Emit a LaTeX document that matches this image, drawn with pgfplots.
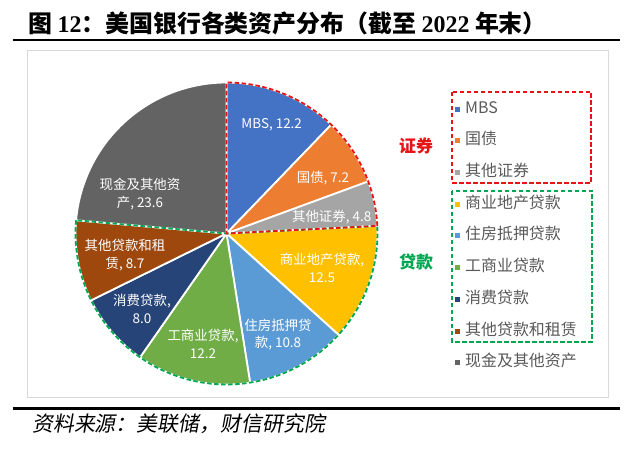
\documentclass[border=0pt]{standalone}
\usepackage{fontspec}
\usepackage{pgfplots}
\pgfplotsset{compat=1.18}
\setmainfont{Noto Sans CJK SC}
\newfontfamily\titlelatin{Liberation Serif}
\newfontfamily\kaiish[FakeSlant=0.18]{Noto Sans CJK SC}

\definecolor{cMBS}{RGB}{68,114,196}
\definecolor{cGZ}{RGB}{237,125,49}
\definecolor{cQZ}{RGB}{165,165,165}
\definecolor{cSY}{RGB}{255,192,0}
\definecolor{cZF}{RGB}{91,155,213}
\definecolor{cGS}{RGB}{112,173,71}
\definecolor{cXF}{RGB}{38,68,120}
\definecolor{cQD}{RGB}{158,72,14}
\definecolor{cXJ}{RGB}{99,99,99}
\definecolor{secred}{RGB}{230,20,20}
\definecolor{loangreen}{RGB}{0,166,80}
\definecolor{legendgray}{RGB}{89,89,89}
\definecolor{framegray}{RGB}{217,217,217}

\begin{document}
\begin{tikzpicture}
\def\cx{226.5}\def\cy{216.5}\def\R{151}
\begin{axis}[
    width=640bp, height=450bp, scale only axis,
    xmin=0, xmax=640, ymin=0, ymax=450,
    axis lines=none, clip=false,
    legend cell align=left,
    legend image code/.code={\fill[#1,draw=none] (0bp,-2.5bp) rectangle (5bp,2.5bp);},
    legend style={at={(axis cs:455,348)}, anchor=north west, draw=none, fill=none,
        inner sep=0pt, row sep=17.7bp, column sep=5bp,
        font=\fontsize{16}{16}\selectfont, text=legendgray,
        nodes={inner sep=0pt, text height=11bp, text depth=3bp}},
    slice/.style={draw=white, line width=1.8bp, samples=60},
    outline/.style={forget plot, draw=#1, fill=none, line width=1.8bp,
        dash pattern=on 4.5bp off 2.5bp, samples=60},
]
% values (%): MBS 12.2, 国债 7.2, 其他证券 4.8, 商业地产贷款 12.5, 住房抵押贷款 10.8,
% 工商业贷款 12.2, 消费贷款 8.0, 其他贷款和租赁 8.7, 现金及其他资产 23.6
\addplot[slice, fill=cMBS, domain=90-3.6*12.2:90]
    ({\cx+\R*cos(x)},{\cy+\R*sin(x)}) -- (\cx,\cy) -- cycle;
\addlegendentry{MBS}
\addplot[slice, fill=cGZ, domain=90-3.6*(12.2+7.2):90-3.6*12.2]
    ({\cx+\R*cos(x)},{\cy+\R*sin(x)}) -- (\cx,\cy) -- cycle;
\addlegendentry{国债}
\addplot[slice, fill=cQZ, domain=90-3.6*(19.4+4.8):90-3.6*19.4]
    ({\cx+\R*cos(x)},{\cy+\R*sin(x)}) -- (\cx,\cy) -- cycle;
\addlegendentry{其他证券}
\addplot[slice, fill=cSY, domain=90-3.6*(24.2+12.5):90-3.6*24.2]
    ({\cx+\R*cos(x)},{\cy+\R*sin(x)}) -- (\cx,\cy) -- cycle;
\addlegendentry{商业地产贷款}
\addplot[slice, fill=cZF, domain=90-3.6*(36.7+10.8):90-3.6*36.7]
    ({\cx+\R*cos(x)},{\cy+\R*sin(x)}) -- (\cx,\cy) -- cycle;
\addlegendentry{住房抵押贷款}
\addplot[slice, fill=cGS, domain=90-3.6*(47.5+12.2):90-3.6*47.5]
    ({\cx+\R*cos(x)},{\cy+\R*sin(x)}) -- (\cx,\cy) -- cycle;
\addlegendentry{工商业贷款}
\addplot[slice, fill=cXF, domain=90-3.6*(59.7+8.0):90-3.6*59.7]
    ({\cx+\R*cos(x)},{\cy+\R*sin(x)}) -- (\cx,\cy) -- cycle;
\addlegendentry{消费贷款}
\addplot[slice, fill=cQD, domain=90-3.6*(67.7+8.7):90-3.6*67.7]
    ({\cx+\R*cos(x)},{\cy+\R*sin(x)}) -- (\cx,\cy) -- cycle;
\addlegendentry{其他贷款和租赁}
\addplot[slice, fill=cXJ, domain=90-3.6*(76.4+23.6):90-3.6*76.4]
    ({\cx+\R*cos(x)},{\cy+\R*sin(x)}) -- (\cx,\cy) -- cycle;
\addlegendentry{现金及其他资产}

% group outlines
\addplot[outline=loangreen, domain=90-3.6*76.4:90-3.6*24.2]
    ({\cx+\R*cos(x)},{\cy+\R*sin(x)}) -- (\cx,\cy) -- cycle;
\addplot[outline=secred, domain=90-3.6*24.2:90]
    ({\cx+\R*cos(x)},{\cy+\R*sin(x)}) -- (\cx,\cy) -- cycle;

% slice labels
\begin{scope}[every node/.style={text=white, align=center,
        font=\fontsize{13.5}{17.5}\selectfont, inner sep=0pt}]
\node at (271.7,325) {MBS, 12.2};
\node at (323,272) {国债, 7.2};
\node at (331.7,233.3) {其他证券, 4.8};
\node at (322,182) {商业地产贷款,\\12.5};
\node at (278,115.5) {住房抵押贷\\款, 10.8};
\node at (203,106) {工商业贷款,\\12.2};
\node at (142,141) {消费贷款,\\8.0};
\node at (125,195) {其他贷款和租\\赁, 8.7};
\node at (140,256) {现金及其他资\\产, 23.6};
\end{scope}

% group boxes and labels
\draw[secred, line width=1.8bp, dash pattern=on 4.5bp off 2.5bp] (452,358) rectangle (591,267);
\draw[loangreen, line width=1.8bp, dash pattern=on 4.5bp off 2.5bp] (452,259) rectangle (592,108);
\node[text=secred, font=\fontsize{17}{17}\selectfont\bfseries] at (416,304) {证券};
\node[text=loangreen, font=\fontsize{17}{17}\selectfont\bfseries] at (416,188) {贷款};

% frame, rules, title, source
\draw[framegray, line width=1bp] (27,399) rectangle (608,52);
\draw[black, line width=1.5bp] (13,410) -- (620,410);
\draw[black, line width=3bp] (13,41) -- (620,41);
\node[anchor=west, inner sep=0pt, font=\fontsize{24}{24}\selectfont\bfseries] at (28,427)
    {图 {\titlelatin 12}：美国银行各类资产分布（截至 {\titlelatin 2022} 年末）};
\node[anchor=west, inner sep=0pt, font=\fontsize{21}{21}\selectfont\kaiish] at (32,26)
    {资料来源：美联储，财信研究院};
% keep the whole 640x450 canvas
\path (0,0) -- (640,450);
\end{axis}
\end{tikzpicture}
\end{document}
